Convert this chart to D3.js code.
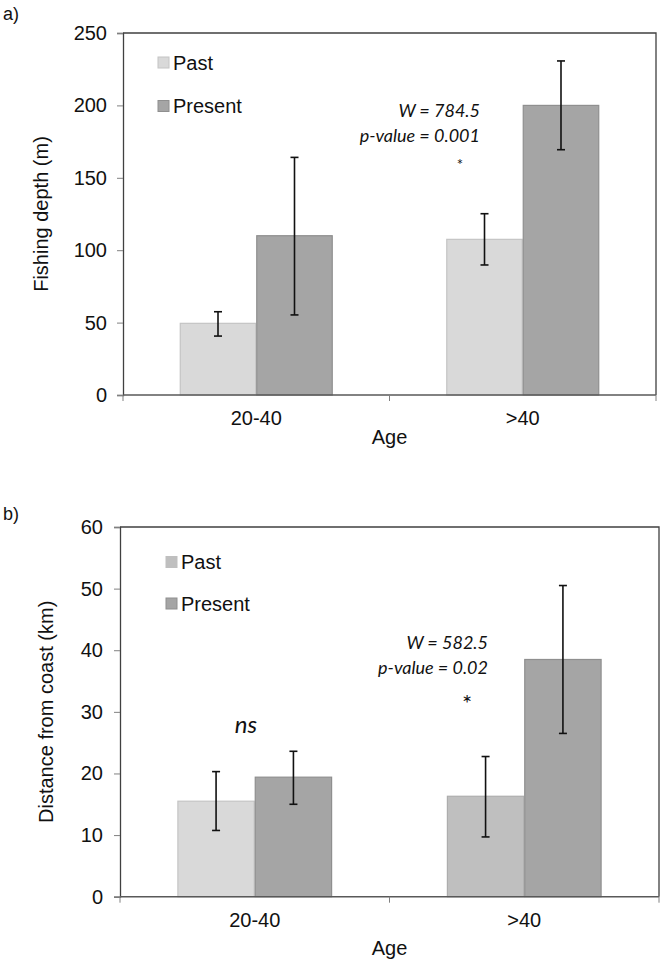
<!DOCTYPE html>
<html><head><meta charset="utf-8">
<script src="https://cdn.jsdelivr.net/npm/d3@7"></script>
<style>
html,body{margin:0;padding:0;background:#fff;}
svg{display:block;}
</style></head>
<body>
<svg id="chart" width="666" height="965"></svg>
<script>
// ---- data ----
const categories = ["20-40", ">40"];
const seriesNames = ["Past", "Present"];

// Panel a) Fishing depth (m)
const depthPast = [49.5, 107.5];
const depthPresent = [110, 200];
const depthPastLow = [40.7, 89.8];
const depthPastHigh = [57.5, 125.2];
const depthPresentLow = [55.3, 169.4];
const depthPresentHigh = [164.1, 230.7];
const depthTicks = [0, 50, 100, 150, 200, 250];

// Panel b) Distance from coast (km)
const distPast = [15.5, 16.3];
const distPresent = [19.4, 38.5];
const distPastLow = [10.75, 9.7];
const distPastHigh = [20.3, 22.75];
const distPresentLow = [15.0, 26.5];
const distPresentHigh = [23.6, 50.5];
const distTicks = [0, 10, 20, 30, 40, 50, 60];

const svg = d3.select("#chart");
const axisFont = "'Liberation Sans', Arial, sans-serif";
const noteFont = "Lato, 'Open Sans', sans-serif";

function panel(cfg) {
  const x0 = d3.scaleBand().domain(categories).range([cfg.left, cfg.right]).paddingInner(0).paddingOuter(0);
  const x1 = d3.scaleBand().domain(seriesNames).range([0, x0.bandwidth()]).paddingInner(0).paddingOuter(0.742);
  const y = d3.scaleLinear().domain([0, cfg.yMax]).range([cfg.bottom, cfg.top]);
  const g = svg.append("g");

  // frame (top and right)
  g.append("path")
    .attr("d", `M${cfg.left},${cfg.top}H${cfg.right}V${cfg.bottom}`)
    .attr("fill", "none").attr("stroke", "#404040").attr("stroke-width", 1.3);

  // bars
  const rows = categories.map((c, i) => ({
    cat: c, i,
    vals: [
      {s: "Past", v: cfg.past[i], lo: cfg.pastLow[i], hi: cfg.pastHigh[i], fill: cfg.pastFill[i], stroke: cfg.pastStroke[i]},
      {s: "Present", v: cfg.present[i], lo: cfg.presentLow[i], hi: cfg.presentHigh[i], fill: "#a5a5a5", stroke: "#8f8f8f"}
    ]
  }));
  const grp = g.selectAll(".grp").data(rows).enter().append("g")
    .attr("transform", d => `translate(${x0(d.cat)},0)`);
  grp.selectAll("rect").data(d => d.vals).enter().append("rect")
    .attr("x", d => x1(d.s) + 0.5)
    .attr("y", d => y(d.v))
    .attr("width", x1.bandwidth() - 1)
    .attr("height", d => y(0) - y(d.v))
    .attr("fill", d => d.fill)
    .attr("stroke", d => d.stroke)
    .attr("stroke-width", 1.2);

  // error bars
  const eb = grp.selectAll(".eb").data(d => d.vals).enter().append("g")
    .attr("transform", d => `translate(${x1(d.s) + x1.bandwidth() / 2},0)`);
  eb.append("line").attr("x1", 0).attr("x2", 0)
    .attr("y1", d => y(d.lo)).attr("y2", d => y(d.hi))
    .attr("stroke", "#111").attr("stroke-width", 1.6);
  ["lo", "hi"].forEach(k => {
    eb.append("line").attr("x1", -4).attr("x2", 4)
      .attr("y1", d => y(d[k])).attr("y2", d => y(d[k]))
      .attr("stroke", "#111").attr("stroke-width", 1.6);
  });

  // y axis
  const yAxis = d3.axisLeft(y).tickValues(cfg.ticks).tickSize(6).tickPadding(cfg.tickPad).tickFormat(d3.format("d"));
  const ya = g.append("g").attr("transform", `translate(${cfg.left},0)`).call(yAxis);
  ya.select(".domain").attr("stroke", "#404040").attr("stroke-width", 1.3);
  ya.selectAll(".tick line").attr("stroke", "#808080");
  ya.selectAll("text").attr("font-family", axisFont).attr("font-size", 20).attr("fill", "#111");

  // x axis
  const xAxis = d3.axisBottom(x0).tickSize(0).tickPadding(16);
  const xa = g.append("g").attr("transform", `translate(0,${cfg.bottom})`).call(xAxis);
  xa.select(".domain").remove();
  xa.selectAll("text").attr("font-family", axisFont).attr("font-size", 20).attr("fill", "#111");
  // baseline and boundary ticks
  g.append("line").attr("x1", cfg.left).attr("x2", cfg.right)
    .attr("y1", cfg.bottom).attr("y2", cfg.bottom)
    .attr("stroke", "#595959").attr("stroke-width", 1.5);
  const bounds = [cfg.left, x0(categories[1]), cfg.right];
  g.selectAll(".xb").data(bounds).enter().append("line")
    .attr("x1", d => d).attr("x2", d => d)
    .attr("y1", cfg.bottom).attr("y2", cfg.bottom + 6)
    .attr("stroke", "#808080").attr("stroke-width", 1);

  // axis titles
  g.append("text").attr("x", (cfg.left + cfg.right) / 2).attr("y", cfg.ageY)
    .attr("text-anchor", "middle").attr("font-family", axisFont).attr("font-size", 20).attr("fill", "#111")
    .text("Age");
  g.append("text")
    .attr("transform", `translate(${cfg.ytitleX},${(cfg.top + cfg.bottom) / 2}) rotate(-90)`)
    .attr("text-anchor", "middle").attr("font-family", axisFont).attr("font-size", 20).attr("fill", "#111")
    .text(cfg.ytitle);

  // panel label
  g.append("text").attr("x", 3).attr("y", cfg.labelY)
    .attr("font-family", axisFont).attr("font-size", 18).attr("fill", "#111").text(cfg.label);

  // legend
  seriesNames.forEach((s, i) => {
    const ly = cfg.legendY + i * cfg.legendGap;
    g.append("rect").attr("x", cfg.legendX).attr("y", ly - 5.5).attr("width", 11).attr("height", 11)
      .attr("fill", i === 0 ? cfg.legendPastFill : "#a5a5a5")
      .attr("stroke", i === 0 ? cfg.legendPastStroke : "#8f8f8f").attr("stroke-width", 1);
    g.append("text").attr("x", cfg.legendX + 15).attr("y", ly + 7)
      .attr("font-family", axisFont).attr("font-size", 20).attr("fill", "#111").text(s);
  });

  // annotations
  cfg.notes.forEach(n => {
    g.append("text").attr("x", n.x).attr("y", n.y).attr("text-anchor", n.anchor || "end")
      .attr("font-family", noteFont).attr("font-style", n.italic === false ? "normal" : "italic")
      .attr("font-size", n.size).attr("fill", "#111").text(n.text);
  });
}

panel({
  left: 123, right: 656, top: 33, bottom: 395, yMax: 250, ticks: depthTicks, tickPad: 10,
  past: depthPast, present: depthPresent,
  pastLow: depthPastLow, pastHigh: depthPastHigh, presentLow: depthPresentLow, presentHigh: depthPresentHigh,
  pastFill: ["#d9d9d9", "#d9d9d9"], pastStroke: ["#c4c4c4", "#c4c4c4"],
  legendPastFill: "#d9d9d9", legendPastStroke: "#c4c4c4",
  ytitle: "Fishing depth (m)", ytitleX: 48, ageY: 444, label: "a)", labelY: 20,
  legendX: 158, legendY: 62.5, legendGap: 43.5,
  notes: [
    {x: 480, y: 117, text: "W = 784.5", size: 18},
    {x: 480, y: 142, text: "p-value = 0.001", size: 18},
    {x: 460, y: 170, text: "*", size: 15, anchor: "middle", italic: false}
  ]
});

panel({
  left: 120, right: 659, top: 527, bottom: 896.7, yMax: 60, ticks: distTicks, tickPad: 11,
  past: distPast, present: distPresent,
  pastLow: distPastLow, pastHigh: distPastHigh, presentLow: distPresentLow, presentHigh: distPresentHigh,
  pastFill: ["#d9d9d9", "#bfbfbf"], pastStroke: ["#c4c4c4", "#adadad"],
  legendPastFill: "#bfbfbf", legendPastStroke: "#bfbfbf",
  ytitle: "Distance from coast (km)", ytitleX: 53, ageY: 955, label: "b)", labelY: 520,
  legendX: 166, legendY: 562, legendGap: 41.5,
  notes: [
    {x: 488, y: 649, text: "W = 582.5", size: 18},
    {x: 488, y: 674, text: "p-value = 0.02", size: 18},
    {x: 467, y: 712, text: "*", size: 24, anchor: "middle", italic: false},
    {x: 246, y: 733, text: "ns", size: 24, anchor: "middle"}
  ]
});
</script>
</body></html>
